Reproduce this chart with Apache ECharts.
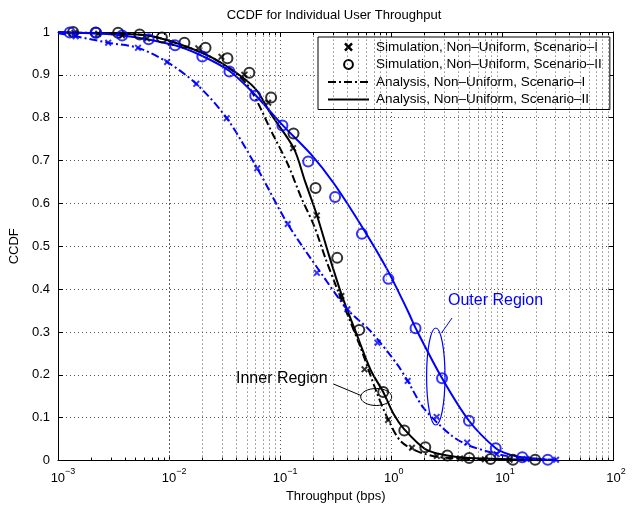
<!DOCTYPE html>
<html><head><meta charset="utf-8">
<script src="https://cdn.jsdelivr.net/npm/echarts@6/dist/echarts.min.js"></script>
<style>html,body{margin:0;padding:0;background:#fff}#c{width:632px;height:508px}</style>
</head><body><div id="c"></div>
<script>
const FONT = 'Liberation Sans, Arial, Helvetica, sans-serif';

// Simulation, Scenario-I, inner region (black x)
const simInnerI_x = [0.001406, 0.002301, 0.003776, 0.006324, 0.01035, 0.01832, 0.02958, 0.04753, 0.07798, 0.1306, 0.2138, 0.3556, 0.5741, 0.9354, 1.535, 2.570, 4.150, 6.950, 11.61];
const simInnerI_y = [0.998, 0.996, 0.992, 0.985, 0.975, 0.962, 0.942, 0.900, 0.835, 0.729, 0.572, 0.384, 0.213, 0.095, 0.030, 0.011, 0.005, 0.003, 0.002];

// Simulation, Scenario-II, inner region (black o)
const simInnerII_x = [0.001368, 0.002178, 0.003475, 0.005433, 0.008610, 0.01374, 0.02128, 0.03350, 0.05272, 0.08279, 0.1318, 0.2080, 0.3258, 0.5152, 0.8453, 1.309, 2.023, 3.192, 5.023, 7.816, 12.45, 19.72];
const simInnerII_y = [1.000, 0.999, 0.998, 0.994, 0.987, 0.975, 0.963, 0.939, 0.905, 0.847, 0.763, 0.636, 0.473, 0.305, 0.160, 0.070, 0.031, 0.012, 0.006, 0.004, 0.002, 0.002];

// Simulation, Scenario-I, outer region (blue x)
const simOuterI_x = [0.001442, 0.002831, 0.005248, 0.009594, 0.01758, 0.03304, 0.06209, 0.1169, 0.2138, 0.4027, 0.7516, 1.403, 2.559, 4.819, 8.892, 16.48, 30.41];
const simOuterI_y = [0.990, 0.975, 0.963, 0.930, 0.879, 0.799, 0.682, 0.552, 0.438, 0.353, 0.275, 0.186, 0.102, 0.042, 0.015, 0.004, 0.002];

// Simulation, Scenario-II, outer region (blue o)
const simOuterII_x = [0.001276, 0.002208, 0.003776, 0.006546, 0.01132, 0.01991, 0.03491, 0.05957, 0.1047, 0.1786, 0.3119, 0.5433, 0.9419, 1.652, 2.864, 5.000, 8.710, 15.10, 25.59];
const simOuterII_y = [0.999, 0.998, 0.992, 0.983, 0.969, 0.943, 0.908, 0.851, 0.782, 0.698, 0.615, 0.529, 0.424, 0.309, 0.192, 0.093, 0.029, 0.008, 0.002];

// Analysis, Scenario-I, inner region (black dash-dot)
const anaInnerI_x = [0.001, 0.0025, 0.0070, 0.0196, 0.0349, 0.0495, 0.0631, 0.0830, 0.1169, 0.1538, 0.2023, 0.2570, 0.3162, 0.4159, 0.5284, 0.7464, 0.9484, 1.208, 1.702, 2.748, 6.266, 21.53];
const anaInnerI_y = [0.999, 0.997, 0.990, 0.952, 0.915, 0.880, 0.834, 0.769, 0.692, 0.615, 0.547, 0.470, 0.409, 0.332, 0.264, 0.156, 0.093, 0.046, 0.022, 0.008, 0.003, 0.001];

// Analysis, Scenario-II, inner region (black solid)
const anaInnerII_x = [0.001, 0.0025, 0.0070, 0.0196, 0.0349, 0.0596, 0.0828, 0.1324, 0.1671, 0.2143, 0.2742, 0.3581, 0.4742, 0.6501, 0.8453, 1.052, 1.309, 2.018, 3.177, 5.0, 12.36, 19.86];
const anaInnerII_y = [0.999, 0.997, 0.990, 0.952, 0.916, 0.868, 0.808, 0.729, 0.652, 0.572, 0.480, 0.386, 0.303, 0.212, 0.160, 0.108, 0.073, 0.027, 0.012, 0.006, 0.003, 0.002];

// Analysis, Scenario-I, outer region (blue dash-dot)
const anaOuterI_x = [0.001, 0.001442, 0.002831, 0.005248, 0.009594, 0.01758, 0.03304, 0.06209, 0.1169, 0.2323, 0.4027, 0.6501, 1.127, 1.403, 1.950, 3.381, 4.797, 7.194, 10.86, 17.54, 30.41];
const anaOuterI_y = [0.997, 0.990, 0.975, 0.963, 0.930, 0.879, 0.799, 0.682, 0.552, 0.438, 0.353, 0.302, 0.225, 0.186, 0.123, 0.061, 0.037, 0.022, 0.011, 0.005, 0.002];

// Analysis, Scenario-II, outer region (blue solid)
const anaOuterII_x = [0.001, 0.001268, 0.003776, 0.01125, 0.01991, 0.03491, 0.05970, 0.1040, 0.1888, 0.3055, 0.5623, 0.9226, 1.432, 1.656, 2.864, 5.0, 8.71, 11.64, 15.10, 25.59];
const anaOuterII_y = [1.000, 0.999, 0.992, 0.969, 0.944, 0.909, 0.853, 0.784, 0.715, 0.646, 0.540, 0.445, 0.345, 0.309, 0.192, 0.093, 0.029, 0.014, 0.008, 0.002];

// Axis ticks
const xMajorTicks = [0.001, 0.01, 0.1, 1, 10, 100];
const yTicks = [0, 0.1, 0.2, 0.3, 0.4, 0.5, 0.6, 0.7, 0.8, 0.9, 1];

// Legend labels
const legendNames = [
  'Simulation, Non–Uniform, Scenario–I',
  'Simulation, Non–Uniform, Scenario–II',
  'Analysis, Non–Uniform, Scenario–I',
  'Analysis, Non–Uniform, Scenario–II'
];
const titleText = 'CCDF for Individual User Throughput';
const xName = 'Throughput (bps)';
const yName = 'CCDF';

const BLUE = '#0000ff';
const BLACK = '#000000';
const X_SYMBOL = 'path://M0,2 L2,0 L5,3 L8,0 L10,2 L7,5 L10,8 L8,10 L5,7 L2,10 L0,8 L3,5 Z';
const DASHDOT = [8, 3, 2, 3];

function pairs(xs, ys) { return xs.map((x, i) => [x, ys[i]]); }

// minor log positions (2..9 per decade)
const minorX = [];
for (let d = -3; d <= 1; d++) for (let m = 2; m <= 9; m++) minorX.push(+(m * Math.pow(10, d)).toPrecision(3));

const gridStyle = { color: '#555', type: [1, 3], width: 1 };

const chart = echarts.init(document.getElementById('c'), null, { renderer: 'canvas' });

const option = {
  animation: false,
  backgroundColor: '#fff',
  textStyle: { fontFamily: FONT },
  title: {
    text: titleText, left: 329, top: 4, textAlign: 'center',
    textStyle: { fontSize: 13, fontWeight: 'normal', color: '#000', fontFamily: FONT }
  },
  grid: { left: 56, right: 18.5, top: 32, bottom: 42, containLabel: false },
  legend: {
    orient: 'vertical', left: 318, top: 37, selectedMode: false,
    backgroundColor: '#fff', borderColor: '#000', borderWidth: 1, borderRadius: 0,
    padding: [3, 8, 3, 9], itemWidth: 41, itemHeight: 11, itemGap: 3.5,
    textStyle: { fontSize: 13.5, fontFamily: FONT, color: '#000', lineHeight: 14, padding: [0, 0, 0, 2] },
    data: [
      { name: legendNames[0], lineStyle: { opacity: 0 } },
      { name: legendNames[1], lineStyle: { opacity: 0 } },
      { name: legendNames[2], itemStyle: { opacity: 0 } },
      { name: legendNames[3], itemStyle: { opacity: 0 } }
    ]
  },
  xAxis: [
    {
      type: 'log', logBase: 10, min: xMajorTicks[0], max: xMajorTicks[xMajorTicks.length - 1], position: 'bottom',
      name: xName, nameLocation: 'middle', nameGap: 27,
      nameTextStyle: { fontSize: 13, color: '#000', fontFamily: FONT },
      axisLine: { show: true, onZero: false, lineStyle: { color: '#000', width: 1 } },
      axisTick: { show: true, inside: true, length: 5, lineStyle: { color: '#000' } },
      axisLabel: {
        margin: 6, color: '#000',
        formatter: function (v) {
          const e = Math.round(Math.log10(v));
          const s = e < 0 ? '−' + (-e) : '' + e;
          return '{' + (e < 0 ? 'pn' : 'pp') + '|}{b|10}{s|' + s + '}';
        },
        rich: {
          b: { fontSize: 13, lineHeight: 24, fontFamily: FONT, color: '#000' },
          s: { fontSize: 9, lineHeight: 9, verticalAlign: 'top', fontFamily: FONT, color: '#000' },
          pn: { width: 10 }, pp: { width: 5 }
        }
      },
      splitLine: { show: true, lineStyle: gridStyle }
    },
    {
      type: 'log', logBase: 10, min: xMajorTicks[0], max: xMajorTicks[xMajorTicks.length - 1], position: 'top',
      axisLine: { show: true, onZero: false, lineStyle: { color: '#000', width: 1 } },
      axisTick: { show: true, inside: true, length: 5, lineStyle: { color: '#000' } },
      axisLabel: { show: false }, splitLine: { show: false }
    }
  ],
  yAxis: [
    {
      type: 'value', min: yTicks[0], max: yTicks[yTicks.length - 1], interval: 0.1,
      name: yName, nameLocation: 'middle', nameGap: 37, nameRotate: 90,
      nameTextStyle: { fontSize: 13, color: '#000', fontFamily: FONT },
      axisLine: { show: true, onZero: false, lineStyle: { color: '#000', width: 1 } },
      axisTick: { show: true, inside: true, length: 5, lineStyle: { color: '#000' } },
      axisLabel: {
        margin: 8, fontSize: 13, color: '#000', fontFamily: FONT,
        formatter: function (v) { const r = Math.round(v * 10) / 10; return (r === 0 || r === 1) ? String(r) : r.toFixed(1); }
      },
      splitLine: { show: true, lineStyle: gridStyle }
    },
    {
      type: 'value', min: yTicks[0], max: yTicks[yTicks.length - 1], interval: 0.1, position: 'right',
      axisLine: { show: true, onZero: false, lineStyle: { color: '#000', width: 1 } },
      axisTick: { show: true, inside: true, length: 5, lineStyle: { color: '#000' } },
      axisLabel: { show: false }, splitLine: { show: false }
    }
  ],
  series: [
    {
      type: 'line', name: 'minorGrid', data: [], silent: true, z: 1,
      markLine: {
        silent: true, symbol: ['none', 'none'], animation: false, label: { show: false },
        emphasis: { disabled: true }, lineStyle: gridStyle,
        data: minorX.map(v => ({ xAxis: v }))
      }
    },
    {
      type: 'line', name: 'minorTicks', data: [], silent: true, z: 3,
      markLine: {
        silent: true, symbol: ['none', 'none'], animation: false, label: { show: false },
        emphasis: { disabled: true }, lineStyle: { color: '#000', type: 'solid', width: 1 },
        data: minorX.map(v => [{ coord: [v, 0] }, { coord: [v, 0.007] }])
          .concat(minorX.map(v => [{ coord: [v, 1] }, { coord: [v, 0.993] }]))
      }
    },
    { type: 'line', name: 'anaInnerI', data: pairs(anaInnerI_x, anaInnerI_y), symbol: 'none', smooth: 0.3, z: 4,
      lineStyle: { color: BLACK, width: 2, type: DASHDOT } },
    { type: 'line', name: 'anaInnerII', data: pairs(anaInnerII_x, anaInnerII_y), symbol: 'none', smooth: 0.3, z: 4,
      lineStyle: { color: BLACK, width: 2 } },
    { type: 'line', name: 'anaOuterI', data: pairs(anaOuterI_x, anaOuterI_y), symbol: 'none', smooth: 0.3, z: 4,
      lineStyle: { color: BLUE, width: 2, type: DASHDOT } },
    { type: 'line', name: 'anaOuterII', data: pairs(anaOuterII_x, anaOuterII_y), symbol: 'none', smooth: 0.3, z: 4,
      lineStyle: { color: BLUE, width: 2 } },
    { type: 'scatter', name: 'simInnerI', data: pairs(simInnerI_x, simInnerI_y), symbol: X_SYMBOL, symbolSize: 7, z: 5,
      itemStyle: { color: BLACK } },
    { type: 'scatter', name: 'simInnerII', data: pairs(simInnerII_x, simInnerII_y), symbol: 'circle', symbolSize: 10, z: 5,
      itemStyle: { color: 'rgba(0,0,0,0)', borderColor: BLACK, borderWidth: 2 } },
    { type: 'scatter', name: 'simOuterI', data: pairs(simOuterI_x, simOuterI_y), symbol: X_SYMBOL, symbolSize: 7, z: 5,
      itemStyle: { color: BLUE } },
    { type: 'scatter', name: 'simOuterII', data: pairs(simOuterII_x, simOuterII_y), symbol: 'circle', symbolSize: 10, z: 5,
      itemStyle: { color: 'rgba(0,0,0,0)', borderColor: BLUE, borderWidth: 2 } },
    { type: 'line', name: legendNames[0], data: [], symbol: X_SYMBOL, itemStyle: { color: BLACK }, lineStyle: { color: BLACK, width: 2 } },
    { type: 'line', name: legendNames[1], data: [], symbol: 'emptyCircle', itemStyle: { color: BLACK }, lineStyle: { color: BLACK, width: 2 } },
    { type: 'line', name: legendNames[2], data: [], symbol: 'none', itemStyle: { color: BLACK }, lineStyle: { color: BLACK, width: 2, type: DASHDOT } },
    { type: 'line', name: legendNames[3], data: [], symbol: 'none', itemStyle: { color: BLACK }, lineStyle: { color: BLACK, width: 2 } }
  ],
  graphic: [
    { type: 'ellipse', silent: true, z: 100, shape: { cx: 435.8, cy: 376.5, rx: 9.2, ry: 48.5 }, style: { fill: 'none', stroke: BLUE, lineWidth: 1.2 } },
    { type: 'line', silent: true, z: 100, shape: { x1: 441.5, y1: 333, x2: 452, y2: 318 }, style: { stroke: BLUE, lineWidth: 1 } },
    { type: 'text', silent: true, z: 100, x: 448, y: 301, style: { text: 'Outer Region', fill: BLUE, font: '16px ' + FONT, verticalAlign: 'middle' } },
    { type: 'ellipse', silent: true, z: 100, shape: { cx: 376.2, cy: 397, rx: 15.5, ry: 8.5 }, style: { fill: 'none', stroke: BLACK, lineWidth: 1 } },
    { type: 'line', silent: true, z: 100, shape: { x1: 333.5, y1: 384, x2: 361, y2: 395.5 }, style: { stroke: BLACK, lineWidth: 1 } },
    { type: 'text', silent: true, z: 100, x: 236, y: 379, style: { text: 'Inner Region', fill: BLACK, font: '16px ' + FONT, verticalAlign: 'middle' } }
  ]
};
chart.setOption(option);
</script>
</body></html>
